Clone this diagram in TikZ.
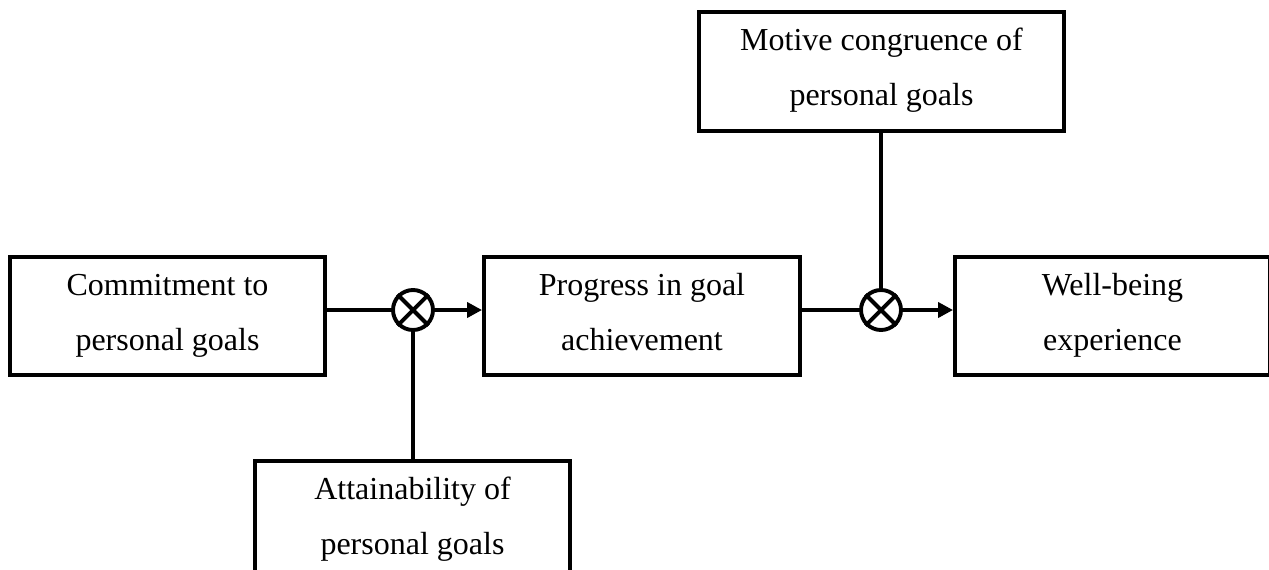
\documentclass[tikz,border=0pt]{standalone}
\usepackage{fontspec}
\setmainfont{Liberation Serif}
\usetikzlibrary{arrows.meta}
% two centred lines with fixed struts so every box sets its baselines alike
\newcommand\twolines[2]{\rule{0pt}{30pt}#1\\#2\rule[-17pt]{0pt}{17pt}}
\begin{document}
\begin{tikzpicture}[x=1pt,y=-1pt,
  box/.style={draw,line width=3.9pt,minimum width=315pt,minimum height=118pt,
    align=center,inner sep=0pt,font=\fontsize{32}{55}\selectfont},
  mult/.style={draw,circle,line width=3.9pt,minimum size=40pt,inner sep=0pt},
  link/.style={line width=3.9pt},
  flow/.style={link,-{Triangle[length=15pt,width=15pt]}}]
\clip (0,0) rectangle (1269,570);

% boxes
\node[box] (commit) at (167.5,316) {\twolines{Commitment to}{personal goals}};
\node[box,minimum width=316pt] (progress) at (642,316) {\twolines{Progress in goal}{achievement}};
\node[box] (well) at (1112.5,316) {\twolines{Well-being}{experience}};
\node[box,minimum width=365pt,minimum height=119pt] (motive) at (881.5,71.5) {\twolines{Motive congruence of}{personal goals}};
\node[box] (attain) at (412.5,520) {\twolines{Attainability of}{personal goals}};

% multiplicative interaction points
\node[mult] (m1) at (413,310) {};
\node[mult] (m2) at (881,310) {};
\foreach \m in {m1,m2}{
  \draw[link] (\m.north west) -- (\m.south east);
  \draw[link] (\m.north east) -- (\m.south west);
}

% connectors
\draw[link] (m1 -| commit.east) -- (m1.west);
\draw[flow] (m1.east) -- (m1 -| progress.west);
\draw[link] (attain.north -| m1) -- (m1.south);
\draw[link] (m2 -| progress.east) -- (m2.west);
\draw[flow] (m2.east) -- (m2 -| well.west);
\draw[link] (motive.south -| m2) -- (m2.north);
\end{tikzpicture}
\end{document}
